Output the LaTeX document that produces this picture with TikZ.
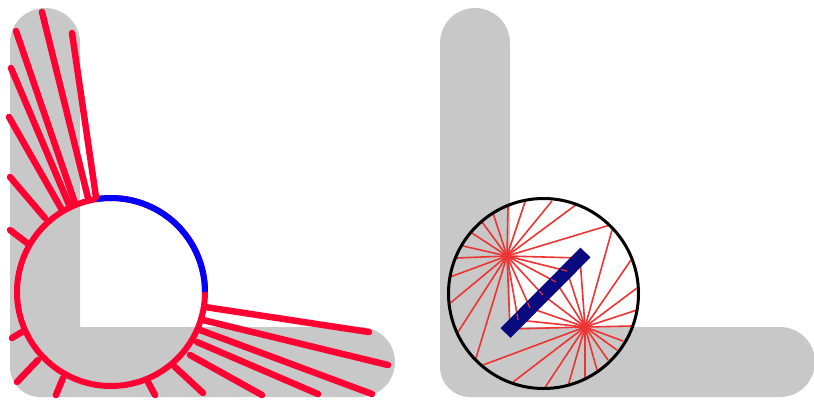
\documentclass[tikz,border=0pt]{standalone}
\usetikzlibrary{
    calc
}
\definecolor{lgray}{HTML}{C8C8C8}
\definecolor{rayred}{HTML}{FF0033}
\definecolor{thinred}{HTML}{EE3333}
\definecolor{barblue}{HTML}{0A0A80}
\tikzset{
  lshape/.style={
    fill=lgray,
    draw=none
  },
  fatray/.style={
    rayred,
    line width=6.5pt,
    line cap=round
  },
  thinray/.style={
    thinred,
    line width=1.6pt
  }
}

\begin{document}
\begin{tikzpicture}[x=1pt,y=-1pt]
\useasboundingbox (0,0) rectangle (814,400);
\coordinate (kl) at (111,292);
\coordinate (kr) at (543.5,293.5);
\coordinate (f1) at (507,256);
\coordinate (f2) at (585,327);
% left
\fill[lshape] (10,43) arc[start angle=180,end angle=0,x radius=35,y radius=-35] -- (80,327) -- (360,327)
    arc[start angle=90,end angle=-90,x radius=35,y radius=-35] -- (40,397)
    arc[start angle=270,end angle=180,x radius=30,y radius=-30] -- cycle;
\draw[rayred,line width=6pt] (kl) circle[radius=94];
\draw[blue,line width=6pt] (kl) ++(0:94) arc[start angle=0,end angle=99,x radius=94,y radius=-94];
\foreach \xa/\ya/\xb/\yb in {96/197/72/33, 88/198/42/12, 75/203/16/31, 70/207/11/68,
    62/210/9/117, 45/218/10/177, 27/243/10/230, 22/332/12/338, 38/360/17/382, 63/378/56/395,
    148/382/155/395, 175/367/203/393, 190/355/262/395, 197/342/318/394, 200/330/372/394,
    203/320/388/365, 205/307/369/332} {
  \draw[fatray] (\xa,\ya) -- (\xb,\yb);
}
% right
\fill[lshape] (440,43) arc[start angle=180,end angle=0,x radius=35,y radius=-35] -- (510,327) -- (780,327)
    arc[start angle=90,end angle=-90,x radius=35,y radius=-35] -- (470,397)
    arc[start angle=270,end angle=180,x radius=30,y radius=-30] -- cycle;
\foreach \xe/\ye in {508/207, 525/202, 552/201, 577/204, 610/225, 493/213, 482/222, 472/233,
    463/246, 457/258, 450/277, 448/305, 458/332, 476/358} {
  \draw[thinray] (f1) -- (\xe,\ye);
}
\foreach \xe/\ye in {612/230, 631/260, 637/288, 637/310, 632/326, 623/341, 617/350, 608/360,
    597/370, 585/378, 568/386, 544/389, 513/382, 483/365} {
  \draw[thinray] (f2) -- (\xe,\ye);
}
\foreach \xp/\yp in {580/258, 567/271, 556/282, 543/295, 530/308, 518/320, 510/329} {
  \draw[thinray] (f1) -- (\xp,\yp) -- (f2);
}
\draw[barblue,line width=14pt] (505.5,333) -- (585.5,252.5);
\foreach \xp/\yp in {567/271, 556/282, 543/295, 530/308, 518/320} {
  \draw[thinray,line width=1.2pt] ($(\xp,\yp)!0.1!(f1)$) -- (\xp,\yp);
}
\draw[black,line width=3pt] (kr) circle[radius=95];
\end{tikzpicture}
\end{document}
